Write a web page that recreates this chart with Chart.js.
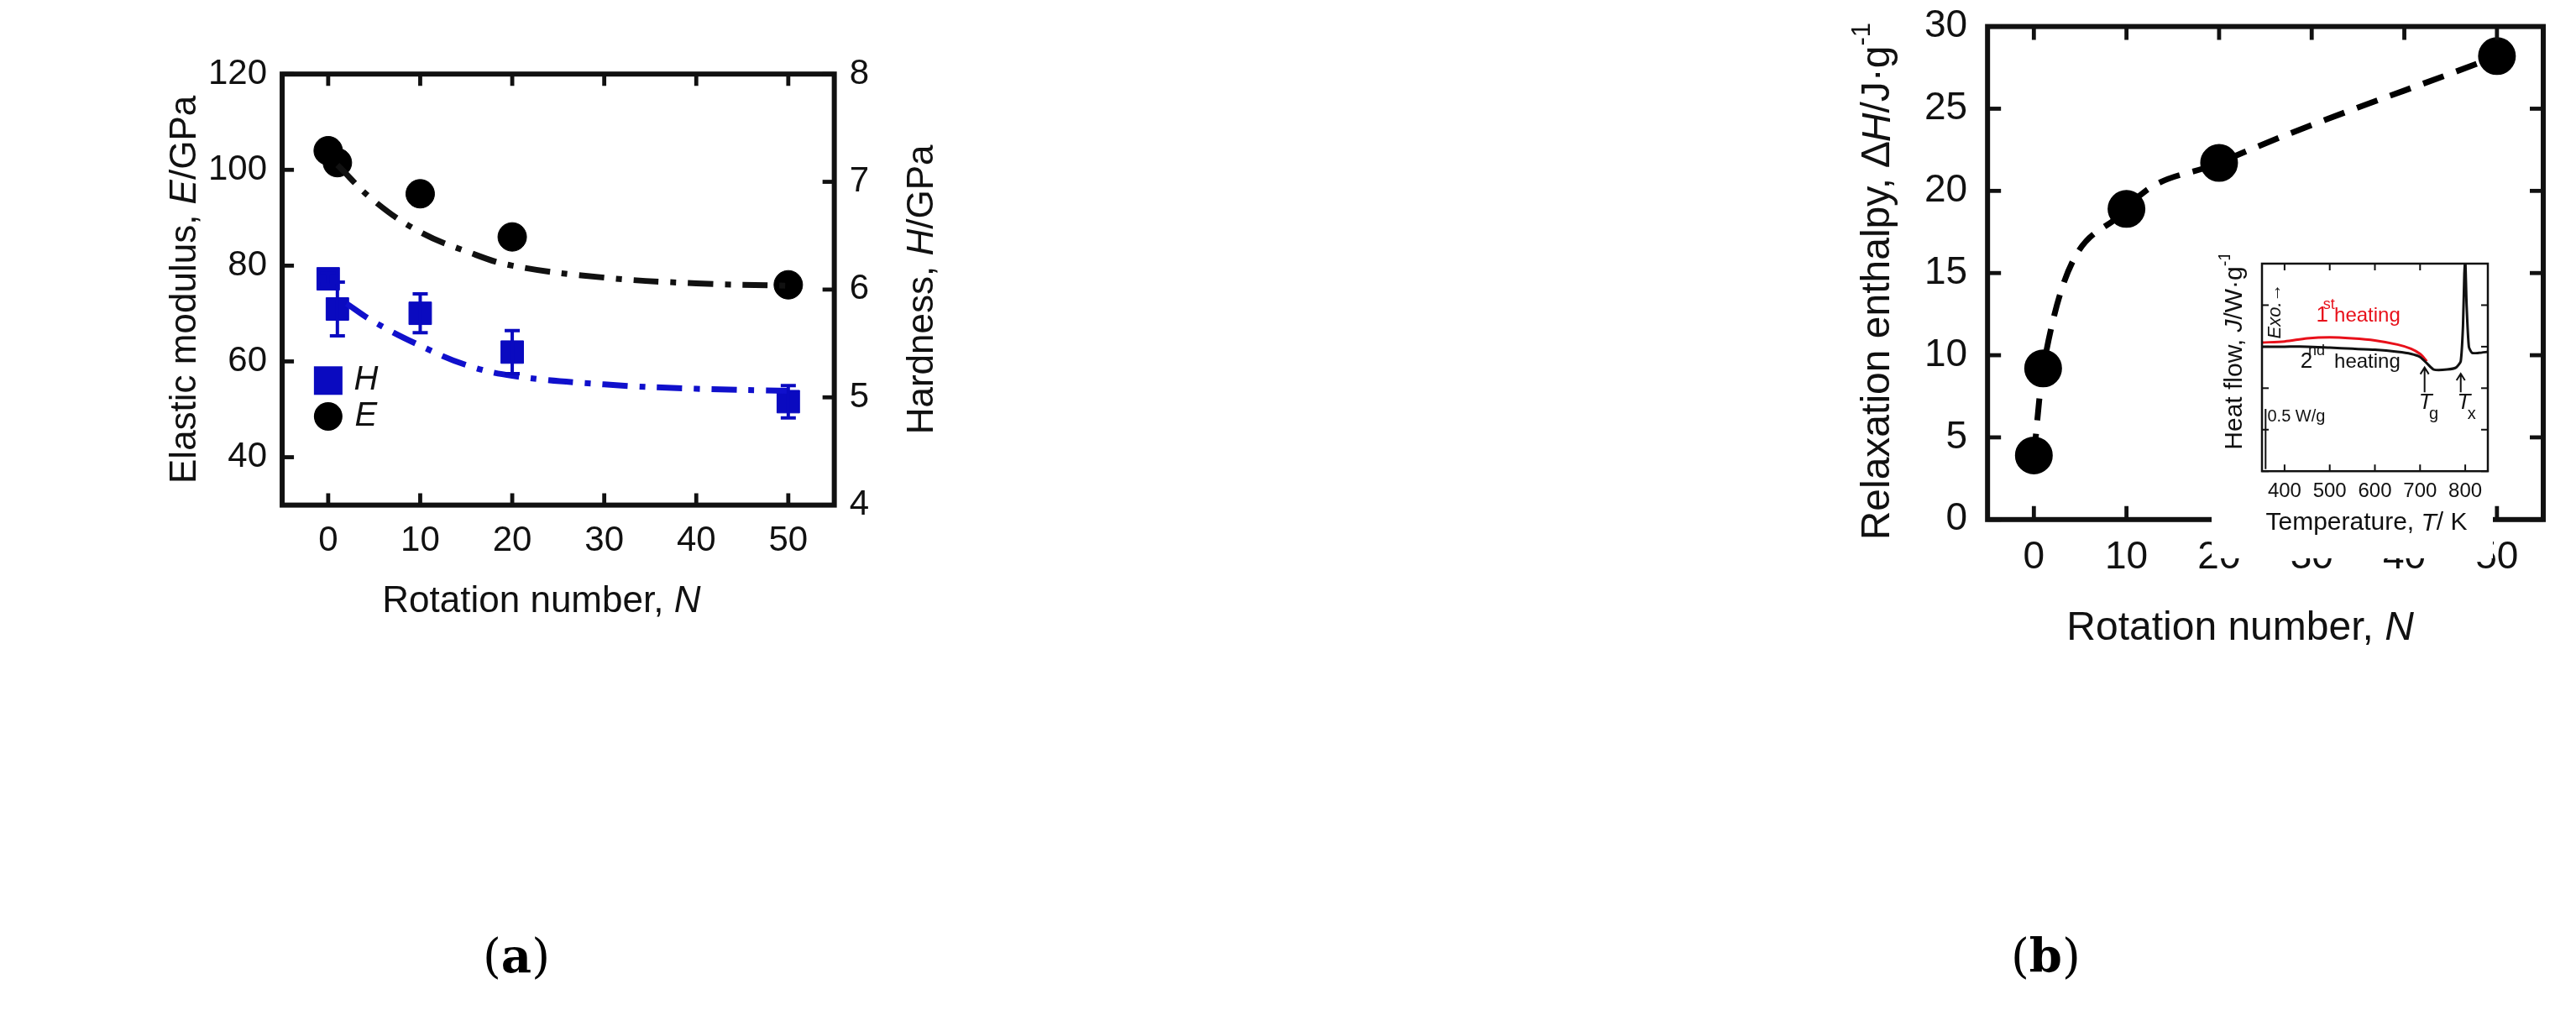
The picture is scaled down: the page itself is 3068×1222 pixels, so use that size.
<!DOCTYPE html>
<html><head><meta charset="utf-8">
<script src="https://cdn.jsdelivr.net/npm/chart.js@4.4.1/dist/chart.umd.min.js"></script>
<style>
body{margin:0;background:#fff;width:3068px;height:1222px;position:relative;overflow:hidden}
canvas{position:absolute}
.cap{position:absolute;font-family:"DejaVu Serif","Liberation Serif",serif;font-size:56px}
</style></head><body>
<canvas id="chartA" style="left:150px;top:45px"></canvas>
<canvas id="chartB" style="left:2188px;top:-20px"></canvas>
<canvas id="inset" style="left:2634px;top:304px"></canvas>
<div class="cap" style="left:575px;top:1105px">(<b>a</b>)</div>
<div class="cap" style="left:2395px;top:1105px">(<b>b</b>)</div>
<script>
// panel (a)
const rotE = [0, 1, 10, 20, 50];
const modulusE = [104, 101.5, 95, 86, 76];
const rotH = [0, 1, 10, 20, 50];
const hardnessH = [6.1, 5.82, 5.78, 5.42, 4.96];
const hardnessErr = [0.05, 0.25, 0.18, 0.2, 0.15];
const fitEx = [1, 5, 10, 15, 20, 30, 40, 50];
const fitEy = [101, 93.5, 87, 83, 80, 77.5, 76.3, 75.8];
const fitHx = [2, 5, 10, 15, 20, 30, 40, 50];
const fitHy = [5.87, 5.7, 5.48, 5.3, 5.2, 5.12, 5.08, 5.06];
const ticksN = [0, 10, 20, 30, 40, 50];
// panel (b)
const rotB = [0, 1, 10, 20, 50];
const enthalpy = [3.9, 9.2, 18.9, 21.7, 28.2];
// inset DSC
const tempK = [350, 400, 450, 500, 550, 600, 650, 680, 700, 715, 730, 760, 780, 790, 795, 798, 800, 803, 808, 815, 830, 850];
const heat2nd = [0.6, 0.6, 0.6, 0.595, 0.59, 0.585, 0.575, 0.565, 0.55, 0.52, 0.49, 0.49, 0.5, 0.53, 0.7, 0.95, 1.02, 0.8, 0.6, 0.57, 0.57, 0.575];
const tempK1 = [350, 400, 450, 500, 550, 600, 650, 680, 700, 715];
const heat1st = [0.62, 0.625, 0.64, 0.645, 0.64, 0.63, 0.61, 0.59, 0.565, 0.53];
const ticksT = [400, 500, 600, 700, 800];

const FONT = '"Liberation Sans", Arial, sans-serif';
Chart.defaults.font.family = FONT;
Chart.defaults.color = '#111';
Chart.defaults.animation = false;

function pts(xs, ys){ return xs.map((x, i) => ({x, y: ys[i]})); }

function rich(ctx, segs, x, y, size, rot){
  ctx.save();
  ctx.translate(x, y);
  ctx.rotate(rot || 0);
  let w = 0;
  segs.forEach(s => { ctx.font = (s[1] ? 'italic ' : '') + (s[2] ? Math.round(size*0.65) : size) + 'px ' + FONT; w += ctx.measureText(s[0]).width; });
  let cx = -w/2;
  ctx.textBaseline = 'middle';
  ctx.fillStyle = '#111';
  segs.forEach(s => {
    const sz = s[2] ? Math.round(size*0.65) : size;
    ctx.font = (s[1] ? 'italic ' : '') + sz + 'px ' + FONT;
    ctx.fillText(s[0], cx, s[2] ? -size*0.4 : 0);
    cx += ctx.measureText(s[0]).width;
  });
  ctx.restore();
}

// frame with inward ticks
function framePlugin(opts){
  return {
    id: 'frame',
    afterDraw(chart){
      const {ctx, chartArea: a, scales} = chart;
      ctx.save();
      ctx.strokeStyle = '#111';
      ctx.lineWidth = opts.lw;
      ctx.strokeRect(a.left, a.top, a.right - a.left, a.bottom - a.top);
      ctx.lineWidth = opts.lw * 0.8;
      const L = opts.tick;
      scales.x.ticks.forEach(t => {
        const px = scales.x.getPixelForValue(t.value);
        ctx.beginPath(); ctx.moveTo(px, a.bottom); ctx.lineTo(px, a.bottom - L);
        ctx.moveTo(px, a.top); ctx.lineTo(px, a.top + L); ctx.stroke();
      });
      const ys = scales.y2 ? [['y', a.left, 1], ['y2', a.right, -1]] : [['y', a.left, 1], ['y', a.right, -1]];
      ys.forEach(([id, x0, d]) => {
        scales[id].ticks.forEach(t => {
          const py = scales[id].getPixelForValue(t.value);
          ctx.beginPath(); ctx.moveTo(x0, py); ctx.lineTo(x0 + d*L, py); ctx.stroke();
        });
      });
      ctx.restore();
      if (opts.extra) opts.extra(chart);
    }
  };
}

const xScale = (min, max, list, size) => ({
  type: 'linear', min, max,
  afterBuildTicks: s => { s.ticks = list.map(v => ({value: v})); },
  grid: {display: false, drawTicks: false},
  border: {display: false},
  ticks: {font: {size}, padding: 18, color: '#111'}
});

// ---- chart (a)
const ctxA = document.getElementById('chartA');
ctxA.width = 993; ctxA.height = 713;
new Chart(ctxA, {
  type: 'scatter',
  data: {datasets: [
    {data: pts(fitEx, fitEy), showLine: true, tension: 0.4, pointRadius: 0, borderColor: '#111', borderWidth: 7, borderDash: [30, 14, 7, 14], yAxisID: 'y'},
    {data: pts(fitHx, fitHy), showLine: true, tension: 0.4, pointRadius: 0, borderColor: '#1010cc', borderWidth: 7, borderDash: [30, 14, 7, 14], yAxisID: 'y2'},
    {data: pts(rotE, modulusE), pointRadius: 17, pointStyle: 'circle', backgroundColor: '#000', borderColor: '#000', yAxisID: 'y'},
    {data: pts(rotH, hardnessH), pointRadius: 19, pointStyle: 'rect', backgroundColor: '#0a0ac0', borderColor: '#0a0ac0', yAxisID: 'y2'}
  ]},
  options: {
    responsive: false,
    plugins: {legend: {display: false}, tooltip: {enabled: false}},
    layout: {padding: {left: 80, right: 90, top: 30, bottom: 70}},
    scales: {
      x: xScale(-5, 55, ticksN, 42),
      y: {type: 'linear', min: 30, max: 120, position: 'left', afterBuildTicks: s => { s.ticks = [40, 60, 80, 100, 120].map(v => ({value: v})); },
        grid: {display: false, drawTicks: false}, border: {display: false}, ticks: {font: {size: 42}, padding: 18, color: '#111'}},
      y2: {type: 'linear', min: 4, max: 8, position: 'right',
        grid: {display: false, drawTicks: false}, border: {display: false}, ticks: {stepSize: 1, font: {size: 42}, padding: 18, color: '#111'}}
    }
  },
  plugins: [framePlugin({lw: 6, tick: 14, extra(chart){
    const {ctx, chartArea: a, scales} = chart;
    // error bars
    ctx.save();
    ctx.strokeStyle = '#0a0ac0'; ctx.lineWidth = 4;
    rotH.forEach((n, i) => {
      const px = scales.x.getPixelForValue(n);
      const y1 = scales.y2.getPixelForValue(hardnessH[i] - hardnessErr[i]);
      const y2 = scales.y2.getPixelForValue(hardnessH[i] + hardnessErr[i]);
      ctx.beginPath(); ctx.moveTo(px, y1); ctx.lineTo(px, y2);
      ctx.moveTo(px - 9, y1); ctx.lineTo(px + 9, y1); ctx.moveTo(px - 9, y2); ctx.lineTo(px + 9, y2); ctx.stroke();
    });
    // legend
    const lx = scales.x.getPixelForValue(0);
    ctx.fillStyle = '#0a0ac0';
    const ly1 = scales.y.getPixelForValue(56);
    ctx.fillRect(lx - 17, ly1 - 17, 34, 34);
    ctx.fillStyle = '#000';
    const ly2 = scales.y.getPixelForValue(48.5);
    ctx.beginPath(); ctx.arc(lx, ly2, 17, 0, Math.PI*2); ctx.fill();
    ctx.restore();
    rich(ctx, [['H', true]], lx + 45, ly1, 40, 0);
    rich(ctx, [['E', true]], lx + 45, ly2, 40, 0);
    // axis titles
    rich(ctx, [['Rotation number, '], ['N', true]], (a.left + a.right)/2 - 20, a.bottom + 115, 44, 0);
    rich(ctx, [['Elastic modulus, '], ['E', true], ['/GPa']], a.left - 115, (a.top + a.bottom)/2, 44, -Math.PI/2);
    rich(ctx, [['Hardness, '], ['H', true], ['/GPa']], a.right + 105, (a.top + a.bottom)/2, 44, -Math.PI/2);
  }})]
});

// ---- chart (b)
const ctxB = document.getElementById('chartB');
ctxB.width = 871; ctxB.height = 800;
new Chart(ctxB, {
  type: 'scatter',
  data: {datasets: [
    {data: pts(rotB, enthalpy), showLine: true, cubicInterpolationMode: 'monotone', pointRadius: 19, pointStyle: 'circle',
      backgroundColor: '#000', borderColor: '#000', borderWidth: 7, borderDash: [26, 16]}
  ]},
  options: {
    responsive: false,
    plugins: {legend: {display: false}, tooltip: {enabled: false}},
    layout: {padding: {left: 80, right: 30, top: 48, bottom: 70}},
    scales: {
      x: xScale(-5, 55, ticksN, 46),
      y: {type: 'linear', min: 0, max: 30, grid: {display: false, drawTicks: false}, border: {display: false}, ticks: {stepSize: 5, font: {size: 46}, padding: 24, color: '#111'}}
    }
  },
  plugins: [framePlugin({lw: 6, tick: 16, extra(chart){
    const {ctx, chartArea: a} = chart;
    rich(ctx, [['Rotation number, '], ['N', true]], (a.left + a.right)/2 - 30, a.bottom + 130, 48, 0);
    rich(ctx, [['Relaxation enthalpy, '], ['\u2206', false], ['H', true], ['/J\u00b7g'], ['-1', false, true]], a.left - 130, (a.top + a.bottom)/2 + 10, 48, -Math.PI/2);
  }})]
});

// ---- inset
const ctxI = document.getElementById('inset');
ctxI.width = 335; ctxI.height = 361;
new Chart(ctxI, {
  type: 'scatter',
  data: {datasets: [
    {data: pts(tempK, heat2nd), showLine: true, pointRadius: 0, borderColor: '#111', borderWidth: 3, tension: 0.2},
    {data: pts(tempK1, heat1st), showLine: true, pointRadius: 0, borderColor: '#e8101a', borderWidth: 3, tension: 0.3}
  ]},
  options: {
    responsive: false,
    plugins: {legend: {display: false}, tooltip: {enabled: false}},
    layout: {padding: {left: 60, right: 6, top: 10, bottom: 55}},
    scales: {
      x: {type: 'linear', min: 350, max: 850, afterBuildTicks: s => { s.ticks = ticksT.map(v => ({value: v})); },
        grid: {display: false, drawTicks: false}, border: {display: false}, ticks: {font: {size: 24}, padding: 10, color: '#111'}},
      y: {type: 'linear', min: 0, max: 1, grid: {display: false, drawTicks: false}, border: {display: false}, ticks: {stepSize: 0.2, display: false}}
    }
  },
  plugins: [{id: 'insetBg', beforeDraw(chart){ const c = chart.ctx; c.save(); c.fillStyle = '#fff'; c.fillRect(0, 0, chart.width, chart.height); c.restore(); }},
    framePlugin({lw: 2.5, tick: 8, extra(chart){
    const {ctx, chartArea: a, scales} = chart;
    const X = v => scales.x.getPixelForValue(v), Y = v => scales.y.getPixelForValue(v);
    rich(ctx, [['Temperature, '], ['T', true], ['/ K']], (a.left + a.right)/2 - 10, a.bottom + 62, 30, 0);
    rich(ctx, [['Heat flow, '], ['J', true], ['/W\u00b7g'], ['-1', false, true]], a.left - 32, (a.top + a.bottom)/2 - 20, 30, -Math.PI/2);
    ctx.save(); ctx.fillStyle = '#e8101a';
    ctx.font = '26px ' + FONT; ctx.fillText('1', X(470), Y(0.72));
    ctx.font = '18px ' + FONT; ctx.fillText('st', X(485), Y(0.78));
    ctx.font = '24px ' + FONT; ctx.fillText('heating', X(510), Y(0.72));
    ctx.fillStyle = '#111';
    ctx.font = '26px ' + FONT; ctx.fillText('2', X(435), Y(0.5));
    ctx.font = '18px ' + FONT; ctx.fillText('nd', X(452), Y(0.56));
    ctx.font = '24px ' + FONT; ctx.fillText('heating', X(510), Y(0.5));
    ctx.font = '20px ' + FONT; ctx.fillText('0.5 W/g', X(362), Y(0.24));
    ctx.font = 'italic 26px ' + FONT; ctx.fillText('T', X(697), Y(0.3)); ctx.fillText('T', X(782), Y(0.3));
    ctx.font = '20px ' + FONT; ctx.fillText('g', X(720), Y(0.25)); ctx.fillText('x', X(805), Y(0.25));
    ctx.lineWidth = 2; ctx.strokeStyle = '#111';
    [[710, 0.5], [790, 0.47]].forEach(([t, y]) => {
      ctx.beginPath(); ctx.moveTo(X(t), Y(0.38)); ctx.lineTo(X(t), Y(y)); ctx.moveTo(X(t) - 5, Y(y) + 8); ctx.lineTo(X(t), Y(y)); ctx.lineTo(X(t) + 5, Y(y) + 8); ctx.stroke();
    });
    ctx.beginPath(); ctx.moveTo(X(358), Y(0.3)); ctx.lineTo(X(358), Y(0.01)); ctx.stroke();
    ctx.restore();
    ctx.save(); ctx.translate(X(380), Y(0.8)); ctx.rotate(-Math.PI/2);
    ctx.font = 'italic 22px ' + FONT; ctx.fillStyle = '#111'; ctx.textBaseline = 'middle';
    ctx.fillText('Exo.\u2192', -40, 0); ctx.restore();
  }})]
});
</script>
</body></html>
